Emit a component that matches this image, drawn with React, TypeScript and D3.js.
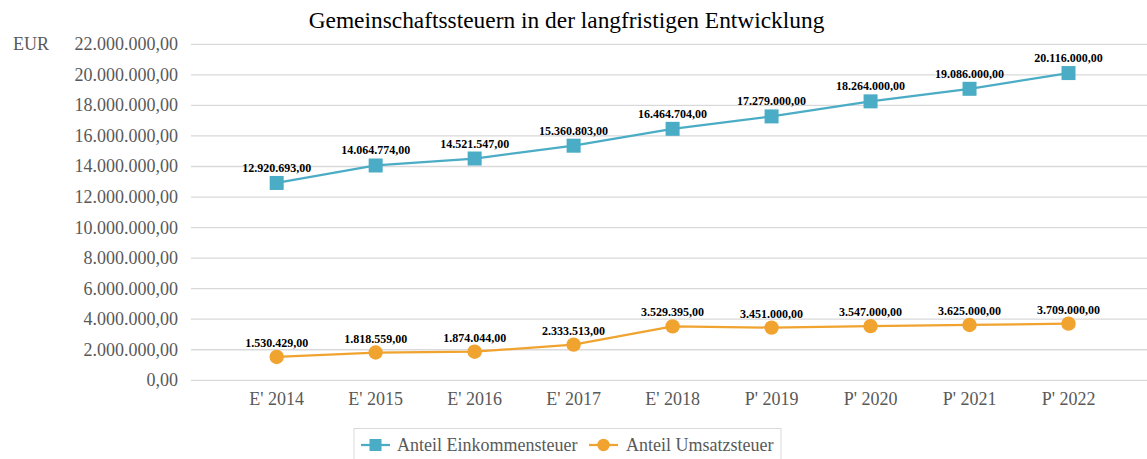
import React from "react";
import * as d3 from "d3";

const categories = ["E' 2014", "E' 2015", "E' 2016", "E' 2017", "E' 2018", "P' 2019", "P' 2020", "P' 2021", "P' 2022"];
const einkommensteuer = [12920693, 14064774, 14521547, 15360803, 16464704, 17279000, 18264000, 19086000, 20116000];
const umsatzsteuer = [1530429, 1818559, 1874044, 2333513, 3529395, 3451000, 3547000, 3625000, 3709000];
const yTicks = [0, 2000000, 4000000, 6000000, 8000000, 10000000, 12000000, 14000000, 16000000, 18000000, 20000000, 22000000];
const seriesNames = ["Anteil Einkommensteuer", "Anteil Umsatzsteuer"];
const title = "Gemeinschaftssteuern in der langfristigen Entwicklung";

const W = 1147;
const H = 459;
const FONT = "'Liberation Serif', 'Times New Roman', serif";
const TEAL = "#4bacc6";
const ORANGE = "#f0a32f";

const fmt = (v: number) => {
  const s = Math.round(v).toString().replace(/\B(?=(\d{3})+(?!\d))/g, ".");
  return s + ",00";
};

export default function App() {
  const x = d3.scaleBand<string>().domain(categories).range([227.2, 1118]);
  const y = d3.scaleLinear().domain([0, 22000000]).range([380.3, 44.3]);
  const cx = (c: string) => (x(c) as number) + x.bandwidth() / 2;
  const line = d3
    .line<number>()
    .x((_, i) => cx(categories[i]))
    .y((d) => y(d));

  return (
    <svg width={W} height={H} style={{ position: "absolute", left: 0, top: 0, background: "#fff" }} fontFamily={FONT}>
      <text x={566.5} y={28} textAnchor="middle" fontSize={23.4} fill="#000">{title}</text>
      <text x={13} y={50} fontSize={18} fill="#595959">EUR</text>
      {yTicks.map((t) => (
        <g key={t}>
          <line x1={191} x2={W} y1={y(t)} y2={y(t)} stroke="#d9d9d9" strokeWidth={1.3} />
          <text x={178} y={y(t) + 6} textAnchor="end" fontSize={18} fill="#595959">{fmt(t)}</text>
        </g>
      ))}
      {categories.map((c) => (
        <text key={c} x={cx(c)} y={405} textAnchor="middle" fontSize={18} fill="#595959">{c}</text>
      ))}
      <path d={line(einkommensteuer) || ""} fill="none" stroke={TEAL} strokeWidth={2.25} />
      <path d={line(umsatzsteuer) || ""} fill="none" stroke={ORANGE} strokeWidth={2.25} />
      {einkommensteuer.map((v, i) => (
        <g key={"e" + i}>
          <rect x={cx(categories[i]) - 7} y={y(v) - 7} width={14} height={14} fill={TEAL} />
          <text x={cx(categories[i])} y={y(v) - 11} textAnchor="middle" fontSize={12} fontWeight="bold" fill="#000">{fmt(v)}</text>
        </g>
      ))}
      {umsatzsteuer.map((v, i) => (
        <g key={"u" + i}>
          <circle cx={cx(categories[i])} cy={y(v)} r={7.2} fill={ORANGE} />
          <text x={cx(categories[i])} y={y(v) - 10} textAnchor="middle" fontSize={12} fontWeight="bold" fill="#000">{fmt(v)}</text>
        </g>
      ))}
      <g>
        <rect x={354} y={428.5} width={427} height={40} fill="#fff" stroke="#d9d9d9" strokeWidth={1} />
        <line x1={361} x2={390} y1={445} y2={445} stroke={TEAL} strokeWidth={2.25} />
        <rect x={369.5} y={439} width={12} height={12} fill={TEAL} />
        <text x={397} y={451} fontSize={18} fill="#595959">{seriesNames[0]}</text>
        <line x1={589} x2={618} y1={445} y2={445} stroke={ORANGE} strokeWidth={2.25} />
        <circle cx={603.5} cy={445} r={6.2} fill={ORANGE} />
        <text x={626} y={451} fontSize={18} fill="#595959">{seriesNames[1]}</text>
      </g>
    </svg>
  );
}
